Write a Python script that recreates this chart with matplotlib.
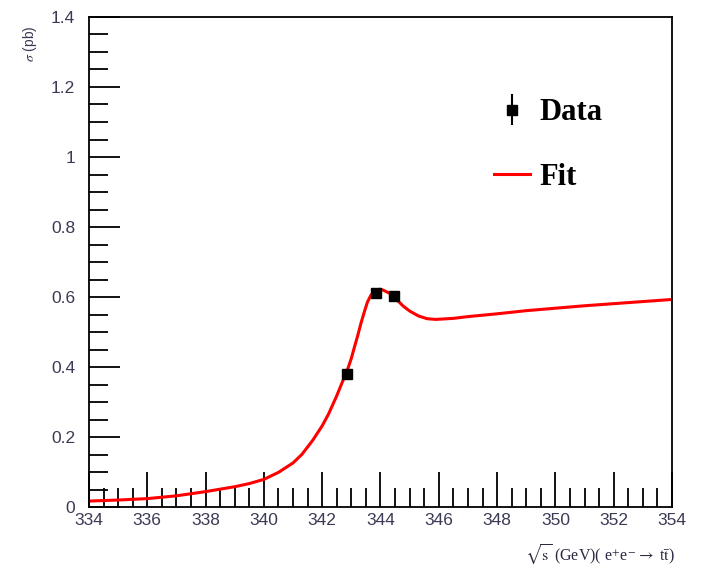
import numpy as np
import matplotlib.pyplot as plt
from matplotlib.ticker import MultipleLocator

# measured cross sections
data_x = [342.85, 343.85, 344.45]
data_y = [0.380, 0.611, 0.603]
data_err = [0.0, 0.0, 0.0]

# fitted line shape, sampled along the scan
fit_x = [334.0, 335.0, 336.0, 337.0, 338.0, 339.0, 339.5, 340.0, 340.5, 341.0,
         341.3, 341.67, 342.0, 342.22, 342.5, 342.78, 342.9, 343.0, 343.1,
         343.22, 343.33, 343.44, 343.55, 343.67, 343.78, 343.89, 344.0, 344.11,
         344.3, 344.5, 344.78, 345.0, 345.3, 345.6, 345.9, 346.5, 347.0, 348.0,
         349.0, 350.0, 351.0, 352.0, 353.0, 354.0]
fit_y = [0.017, 0.020, 0.024, 0.032, 0.044, 0.058, 0.067, 0.079, 0.099, 0.126,
         0.150, 0.190, 0.232, 0.266, 0.318, 0.375, 0.400, 0.425, 0.455,
         0.490, 0.525, 0.556, 0.585, 0.605, 0.616, 0.621, 0.622, 0.619,
         0.611, 0.597, 0.574, 0.560, 0.546, 0.538, 0.536, 0.539, 0.544, 0.552,
         0.561, 0.568, 0.575, 0.581, 0.587, 0.593]

plt.rc('axes', linewidth=1.3)
plt.rc('mathtext', fontset='stix')

fig = plt.figure(figsize=(7.05, 5.78), dpi=100)
ax = fig.add_axes([0.1262, 0.1228, 0.827, 0.8478])

ax.plot(fit_x, fit_y, color='#ff0000', lw=2.2, label='Fit', zorder=2)
ax.errorbar(data_x, data_y, yerr=data_err, fmt='s', color='black', ms=7,
            elinewidth=1.5, capsize=0, label='Data', zorder=3)

ax.set_xlim(334, 354)
ax.set_ylim(0, 1.4)
ax.xaxis.set_major_locator(MultipleLocator(2))
ax.xaxis.set_minor_locator(MultipleLocator(0.5))
ax.yaxis.set_major_locator(MultipleLocator(0.2))
ax.yaxis.set_minor_locator(MultipleLocator(0.05))
ax.tick_params(which='both', direction='in', top=False, right=False,
               width=1.3, colors='black', labelcolor='#3a3a55')
ax.tick_params(which='major', length=25, labelsize=12.5)
ax.tick_params(axis='x', which='major', pad=4)
ax.tick_params(axis='y', which='major', length=22, pad=10)
ax.tick_params(which='minor', length=14)
ax.set_yticks([0, 0.2, 0.4, 0.6, 0.8, 1.0, 1.2, 1.4])
ax.set_yticklabels(['0', '0.2', '0.4', '0.6', '0.8', '1', '1.2', '1.4'])
for lab in ax.get_xticklabels() + ax.get_yticklabels():
    lab.set_family('Liberation Sans')

fig.text(0.043, 0.925, r'$\sigma$ (pb)', rotation=90, ha='center', va='center',
         fontsize=10, color='#3a3a55', family='Liberation Sans')
fig.text(0.957, 0.04,
         r'$\sqrt{\mathrm{s}}$ (GeV)( e$^{+}$e$^{-}$$\rightarrow$ t$\bar{\mathrm{t}}$)',
         ha='right', va='center', fontsize=11.5, color='#2a2a40',
         family='Liberation Serif')

handles, labels = ax.get_legend_handles_labels()
ax.legend(handles[::-1], labels[::-1], loc='upper left',
          bbox_to_anchor=(0.647, 0.89), frameon=False, handlelength=1.2,
          handletextpad=0.3, labelspacing=1.15,
          prop={'family': 'Liberation Serif', 'weight': 'bold', 'size': 22})

plt.savefig('out.png', dpi=100)
